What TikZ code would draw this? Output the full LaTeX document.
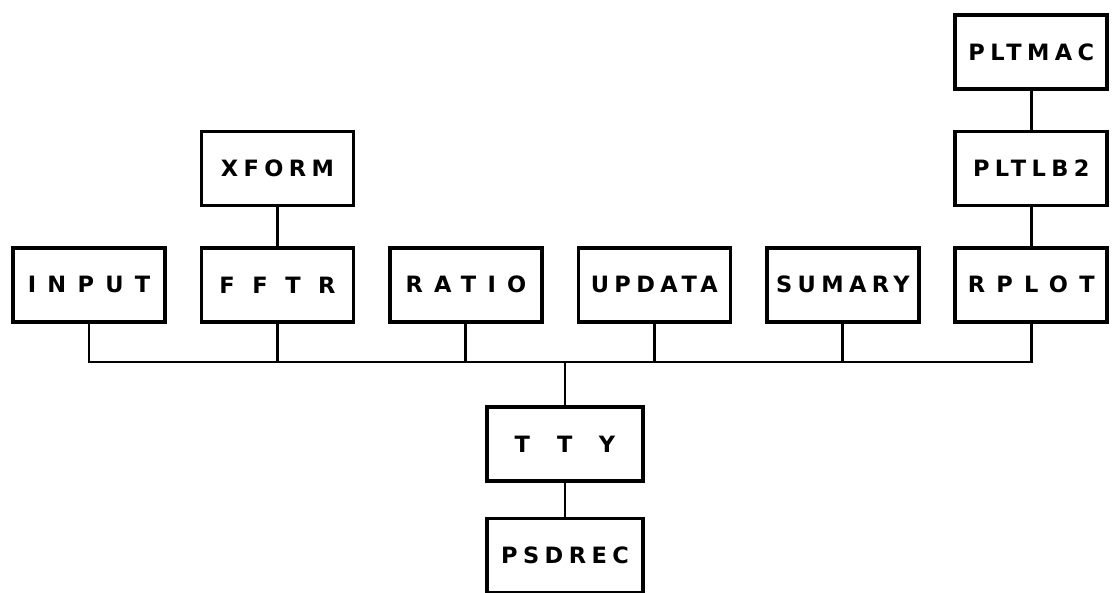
\documentclass[tikz,border=0pt]{standalone}
\usepackage{fontspec}
\usetikzlibrary{positioning}
\newfontfamily\lblfont[LetterSpace=24]{DejaVu Sans}
\newfontfamily\lblmid[LetterSpace=50]{DejaVu Sans}
\newfontfamily\lblwide[LetterSpace=78]{DejaVu Sans}
\newfontfamily\lblvast[LetterSpace=118]{DejaVu Sans}

\begin{document}
\begin{tikzpicture}[
  box/.style = {
    rectangle, draw=black, line width=2.6pt,
    minimum width=3.8cm, minimum height=1.85cm,
    inner sep=2pt, align=center,
    font=\lblfont\bfseries\fontsize{16}{19}\selectfont
  },
  mid/.style  = {font=\lblmid\bfseries\fontsize{16}{19}\selectfont},
  wide/.style = {font=\lblwide\bfseries\fontsize{16}{19}\selectfont},
  vast/.style = {font=\lblvast\bfseries\fontsize{16}{19}\selectfont},
  wire/.style = {line width=2.1pt, color=black},
  node distance = 0.97cm and 0.82cm
]
  \useasboundingbox (0,0) rectangle (27.8,-14.8);

  % main row
  \node[box, mid]                   (input)  at (2.225,-7.12) {INPUT};
  \node[box, wide, right=of input]  (fftr)   {FFTR};
  \node[box, mid, right=of fftr]    (ratio)  {RATIO};
  \node[box, right=of ratio]        (updata) {UPDATA};
  \node[box, right=of updata]       (sumary) {SUMARY};
  \node[box, mid, right=of sumary]  (rplot)  {RPLOT};

  % upper levels
  \node[box, above=of fftr]   (xform)  {XFORM};
  \node[box, above=of rplot]  (pltlb2) {PLTLB2};
  \node[box, above=of pltlb2] (pltmac) {PLTMAC};

  % lower levels
  \node[box, vast, minimum width=3.9cm] (tty) at (14.125,-11.1) {TTY};
  \node[box, minimum width=3.9cm, below=0.85cm of tty] (psdrec) {PSDREC};

  \coordinate (bus) at (0,-9.05);

  \draw[wire] (input.south) -- (input.south |- bus) -- (rplot.south |- bus) -- (rplot.south);
  \foreach \n in {fftr,ratio,updata,sumary}
    \draw[wire] (\n.south) -- (\n.south |- bus);
  \draw[wire] (tty.north) -- (tty.north |- bus);

  \draw[wire] (xform)  -- (fftr);
  \draw[wire] (pltmac) -- (pltlb2);
  \draw[wire] (pltlb2) -- (rplot);
  \draw[wire] (tty)    -- (psdrec);
\end{tikzpicture}
\end{document}
